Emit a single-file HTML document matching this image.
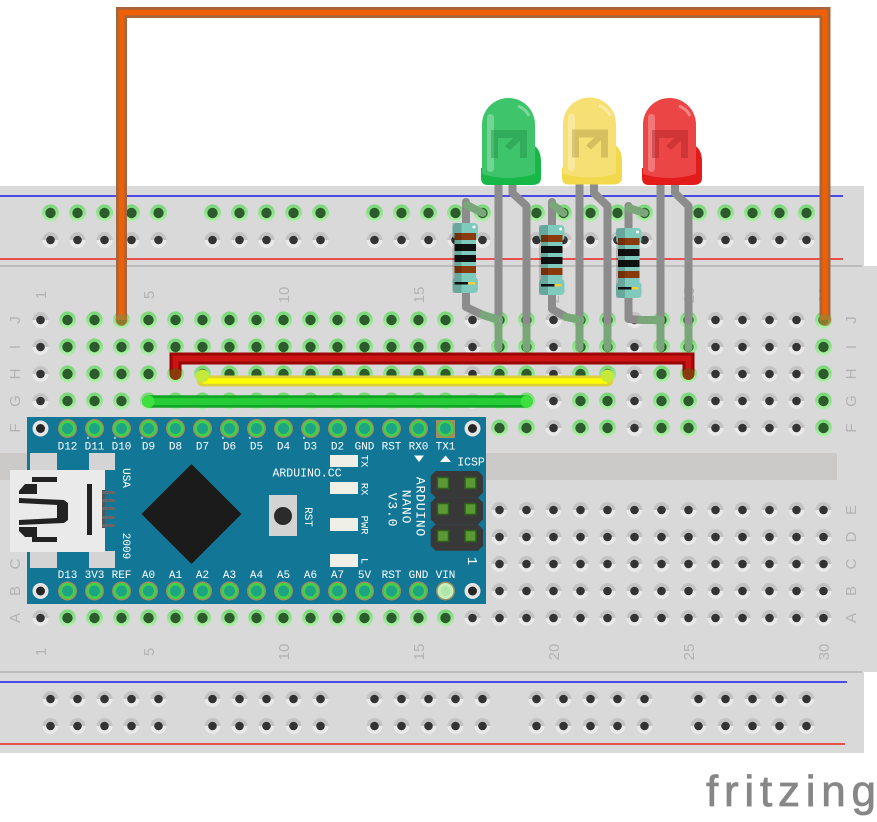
<!DOCTYPE html>
<html><head><meta charset="utf-8">
<style>html,body{margin:0;padding:0;background:#fff}svg{display:block}</style>
</head><body>
<svg width="877" height="822" viewBox="0 0 877 822" xmlns="http://www.w3.org/2000/svg">
<defs>
<linearGradient id="gg" x1="0" y1="0" x2="0" y2="1"><stop offset="0.5" stop-color="#c3c3c3"/><stop offset="0.5" stop-color="#e9e9e9"/></linearGradient>
<linearGradient id="gn" x1="0" y1="0" x2="0" y2="1"><stop offset="0" stop-color="#76d676"/><stop offset="1" stop-color="#b2f0aa"/></linearGradient>
<g id="hg"><circle cx="13.5" cy="13.5" r="8" fill="url(#gg)"/><circle cx="13.5" cy="13.5" r="4.3" fill="#333"/></g>
<g id="hn"><circle cx="13.5" cy="13.5" r="8.5" fill="url(#gn)"/><circle cx="13.5" cy="13.5" r="5.2" fill="#2c5c2c"/></g>
<pattern id="pTg" x="27" y="306.5" width="27" height="27" patternUnits="userSpaceOnUse"><use href="#hg"/></pattern>
<pattern id="pTn" x="27" y="306.5" width="27" height="27" patternUnits="userSpaceOnUse"><use href="#hn"/></pattern>
<pattern id="pBg" x="27" y="496.5" width="27" height="27" patternUnits="userSpaceOnUse"><use href="#hg"/></pattern>
<pattern id="pBn" x="27" y="496.5" width="27" height="27" patternUnits="userSpaceOnUse"><use href="#hn"/></pattern>
<pattern id="pRg" x="37" y="199.5" width="27" height="27" patternUnits="userSpaceOnUse"><use href="#hg"/></pattern>
<pattern id="pRn" x="37" y="199.5" width="27" height="27" patternUnits="userSpaceOnUse"><use href="#hn"/></pattern>
<g id="pin"><circle r="9.5" fill="#9d8f5e"/><circle r="8" fill="#3fd34a"/><circle r="5.5" fill="#1ea383"/></g>
<g id="chole"><circle r="8" fill="#e4e4e4"/><circle r="4.5" fill="#262626"/></g>
</defs>

<!-- breadboard -->
<rect x="0" y="186" width="864" height="80" fill="#d9d9d9"/>
<rect x="0" y="266" width="877" height="406" fill="#d9d9d9"/>
<rect x="0" y="672" width="864" height="81" fill="#d9d9d9"/>
<line x1="0" y1="266" x2="862" y2="266" stroke="#b3b3b3" stroke-width="1.5"/>
<line x1="0" y1="672" x2="862" y2="672" stroke="#b3b3b3" stroke-width="1.5"/>
<line x1="0" y1="196" x2="843" y2="196" stroke="#1a1aee" stroke-width="1.5"/>
<line x1="0" y1="259" x2="843" y2="259" stroke="#ee2222" stroke-width="1.5"/>
<line x1="0" y1="682" x2="847" y2="682" stroke="#1a1aee" stroke-width="1.5"/>
<line x1="0" y1="744" x2="845" y2="744" stroke="#ee2222" stroke-width="1.5"/>
<rect x="0" y="453" width="837" height="27" fill="#cbcac8"/>

<!-- rail holes -->
<g>
<rect x="37" y="199.5" width="135" height="27" fill="url(#pRn)"/>
<rect x="199" y="199.5" width="135" height="27" fill="url(#pRn)"/>
<rect x="361" y="199.5" width="135" height="27" fill="url(#pRn)"/>
<rect x="523" y="199.5" width="135" height="27" fill="url(#pRn)"/>
<rect x="685" y="199.5" width="135" height="27" fill="url(#pRn)"/>
<rect x="37" y="226.5" width="135" height="27" fill="url(#pRg)"/>
<rect x="199" y="226.5" width="135" height="27" fill="url(#pRg)"/>
<rect x="361" y="226.5" width="135" height="27" fill="url(#pRg)"/>
<rect x="523" y="226.5" width="135" height="27" fill="url(#pRg)"/>
<rect x="685" y="226.5" width="135" height="27" fill="url(#pRg)"/>
<rect x="37" y="685.5" width="135" height="54" fill="url(#pRg)"/>
<rect x="199" y="685.5" width="135" height="54" fill="url(#pRg)"/>
<rect x="361" y="685.5" width="135" height="54" fill="url(#pRg)"/>
<rect x="523" y="685.5" width="135" height="54" fill="url(#pRg)"/>
<rect x="685" y="685.5" width="135" height="54" fill="url(#pRg)"/>
</g>
<!-- main holes -->
<g>
<rect x="27" y="306.5" width="27" height="135" fill="url(#pTg)"/>
<rect x="459" y="306.5" width="27" height="135" fill="url(#pTg)"/>
<rect x="540" y="306.5" width="27" height="135" fill="url(#pTg)"/>
<rect x="621" y="306.5" width="27" height="135" fill="url(#pTg)"/>
<rect x="702" y="306.5" width="108" height="135" fill="url(#pTg)"/>
<rect x="54" y="306.5" width="405" height="135" fill="url(#pTn)"/>
<rect x="486" y="306.5" width="54" height="135" fill="url(#pTn)"/>
<rect x="567" y="306.5" width="54" height="135" fill="url(#pTn)"/>
<rect x="648" y="306.5" width="54" height="135" fill="url(#pTn)"/>
<rect x="810" y="306.5" width="27" height="135" fill="url(#pTn)"/>
<rect x="486" y="496.5" width="351" height="108" fill="url(#pBg)"/>
<rect x="27" y="604.5" width="27" height="27" fill="url(#pBg)"/>
<rect x="54" y="604.5" width="405" height="27" fill="url(#pBn)"/>
<rect x="459" y="604.5" width="378" height="27" fill="url(#pBg)"/>
</g>

<!-- breadboard labels -->
<g font-family="Liberation Sans, sans-serif" font-size="15" fill="#b3b3b3" text-anchor="middle" dominant-baseline="central">
<text transform="translate(15.5 320) rotate(-90)">J</text>
<text transform="translate(15.5 347) rotate(-90)">I</text>
<text transform="translate(15.5 374) rotate(-90)">H</text>
<text transform="translate(15.5 401) rotate(-90)">G</text>
<text transform="translate(15.5 428) rotate(-90)">F</text>
<text transform="translate(15.5 510) rotate(-90)">E</text>
<text transform="translate(15.5 537) rotate(-90)">D</text>
<text transform="translate(15.5 564) rotate(-90)">C</text>
<text transform="translate(15.5 591) rotate(-90)">B</text>
<text transform="translate(15.5 618) rotate(-90)">A</text>
<text transform="translate(851.5 320) rotate(-90)">J</text>
<text transform="translate(851.5 347) rotate(-90)">I</text>
<text transform="translate(851.5 374) rotate(-90)">H</text>
<text transform="translate(851.5 401) rotate(-90)">G</text>
<text transform="translate(851.5 428) rotate(-90)">F</text>
<text transform="translate(851.5 510) rotate(-90)">E</text>
<text transform="translate(851.5 537) rotate(-90)">D</text>
<text transform="translate(851.5 564) rotate(-90)">C</text>
<text transform="translate(851.5 591) rotate(-90)">B</text>
<text transform="translate(851.5 618) rotate(-90)">A</text>
<text transform="translate(41.5 295) rotate(-90)">1</text>
<text transform="translate(149.5 295) rotate(-90)">5</text>
<text transform="translate(284.5 295) rotate(-90)">10</text>
<text transform="translate(419.5 295) rotate(-90)">15</text>
<text transform="translate(554.5 295) rotate(-90)">20</text>
<text transform="translate(689.5 295) rotate(-90)">25</text>
<text transform="translate(824.5 295) rotate(-90)">30</text>
<text transform="translate(41.5 652) rotate(-90)">1</text>
<text transform="translate(149.5 652) rotate(-90)">5</text>
<text transform="translate(284.5 652) rotate(-90)">10</text>
<text transform="translate(419.5 652) rotate(-90)">15</text>
<text transform="translate(554.5 652) rotate(-90)">20</text>
<text transform="translate(689.5 652) rotate(-90)">25</text>
<text transform="translate(824.5 652) rotate(-90)">30</text>
</g>

<!-- Arduino Nano -->
<rect x="27" y="417" width="459" height="187" fill="#127797"/>
<use href="#chole" x="40.5" y="428.5"/>
<use href="#chole" x="472.5" y="428.5"/>
<use href="#chole" x="40.5" y="591"/>
<use href="#chole" x="472.5" y="591"/>
<g>
<use href="#pin" x="67.5" y="428.5"/><use href="#pin" x="94.5" y="428.5"/><use href="#pin" x="121.5" y="428.5"/><use href="#pin" x="148.5" y="428.5"/><use href="#pin" x="175.5" y="428.5"/><use href="#pin" x="202.5" y="428.5"/><use href="#pin" x="229.5" y="428.5"/><use href="#pin" x="256.5" y="428.5"/><use href="#pin" x="283.5" y="428.5"/><use href="#pin" x="310.5" y="428.5"/><use href="#pin" x="337.5" y="428.5"/><use href="#pin" x="364.5" y="428.5"/><use href="#pin" x="391.5" y="428.5"/><use href="#pin" x="418.5" y="428.5"/>
<use href="#pin" x="67.5" y="591"/><use href="#pin" x="94.5" y="591"/><use href="#pin" x="121.5" y="591"/><use href="#pin" x="148.5" y="591"/><use href="#pin" x="175.5" y="591"/><use href="#pin" x="202.5" y="591"/><use href="#pin" x="229.5" y="591"/><use href="#pin" x="256.5" y="591"/><use href="#pin" x="283.5" y="591"/><use href="#pin" x="310.5" y="591"/><use href="#pin" x="337.5" y="591"/><use href="#pin" x="364.5" y="591"/><use href="#pin" x="391.5" y="591"/><use href="#pin" x="418.5" y="591"/>
<rect x="436" y="420" width="19" height="18" fill="#9d8f5e"/><circle cx="445.5" cy="428.5" r="8" fill="#3fd34a"/><circle cx="445.5" cy="428.5" r="5.5" fill="#1ea383"/>
<circle cx="445.5" cy="591" r="9.5" fill="#9d8f5e"/><circle cx="445.5" cy="591" r="8" fill="#c4efbe"/><circle cx="445.5" cy="591" r="5" fill="#aee6a8"/>
</g>
<g font-family="Liberation Mono, monospace" font-size="11" fill="#ffffff" text-anchor="middle" dominant-baseline="central">
<text x="67.5" y="447.5">D12</text><text x="94.5" y="447.5">D11</text><text x="121.5" y="447.5">D10</text><text x="148.5" y="447.5">D9</text><text x="175.5" y="447.5">D8</text><text x="202.5" y="447.5">D7</text><text x="229.5" y="447.5">D6</text><text x="256.5" y="447.5">D5</text><text x="283.5" y="447.5">D4</text><text x="310.5" y="447.5">D3</text><text x="337.5" y="447.5">D2</text><text x="364.5" y="447.5">GND</text><text x="391.5" y="447.5">RST</text><text x="418.5" y="447.5">RX0</text><text x="445.5" y="447.5">TX1</text>
<text x="67.5" y="576">D13</text><text x="94.5" y="576">3V3</text><text x="121.5" y="576">REF</text><text x="148.5" y="576">A0</text><text x="175.5" y="576">A1</text><text x="202.5" y="576">A2</text><text x="229.5" y="576">A3</text><text x="256.5" y="576">A4</text><text x="283.5" y="576">A5</text><text x="310.5" y="576">A6</text><text x="337.5" y="576">A7</text><text x="364.5" y="576">5V</text><text x="391.5" y="576">RST</text><text x="418.5" y="576">GND</text><text x="445.5" y="576">VIN</text>
<g font-size="7"><text x="88" y="441">*</text><text x="115" y="441">*</text><text x="142" y="441">*</text><text x="223" y="441">*</text><text x="250" y="441">*</text><text x="304" y="441">*</text></g>
<text x="307" y="474" font-size="11.5">ARDUINO.CC</text>
<text x="471" y="463" font-size="11.5">ICSP</text>
<text transform="translate(125 478) rotate(90)">USA</text>
<text transform="translate(125 546) rotate(90)">2009</text>
<text transform="translate(307 517) rotate(90)">RST</text>
<text transform="translate(363.5 461) rotate(90)" font-size="10.5">TX</text>
<text transform="translate(363.5 489) rotate(90)" font-size="10.5">RX</text>
<text transform="translate(363.5 525) rotate(90)" font-size="10.5">PWR</text>
<text transform="translate(363.5 561) rotate(90)" font-size="10.5">L</text>
<text transform="translate(420 507) rotate(90)" font-size="13" letter-spacing="0.8">ARDUINO</text>
<text transform="translate(406 507) rotate(90)" font-size="13" letter-spacing="0.8">NANO</text>
<text transform="translate(392 510) rotate(90)" font-size="13" letter-spacing="0.8">V3.0</text>
<text transform="translate(471 561) rotate(90)" font-size="14">1</text>
</g>
<!-- USB -->
<g>
<rect x="30" y="453" width="27" height="17" fill="#d4d4d4"/>
<rect x="89" y="453" width="26" height="17" fill="#d4d4d4"/>
<rect x="30" y="551" width="27" height="17" fill="#d4d4d4"/>
<rect x="89" y="551" width="26" height="17" fill="#d4d4d4"/>
<rect x="10" y="470" width="95" height="82" fill="#eaeaea"/>
<rect x="32" y="477" width="25" height="5" fill="#222"/>
<rect x="32" y="537" width="25" height="5" fill="#222"/>
<polygon points="19,491 25,484 37,484 37,494 19,494" fill="#222"/>
<polygon points="19,527 37,527 37,537 25,537 19,531" fill="#222"/>
<path d="M19,498 L64,500 L68,503 L68,520 L64,523 L19,525 L19,520 L57,518 L57,505 L19,503 Z" fill="#222"/>
<rect x="87" y="484" width="5" height="51" fill="#222"/>
<rect x="102" y="490" width="3" height="38" fill="#555"/>
<rect x="102" y="491" width="13" height="3" fill="#666"/>
<rect x="102" y="499" width="13" height="3" fill="#666"/>
<rect x="102" y="507" width="13" height="3" fill="#666"/>
<rect x="102" y="516" width="13" height="3" fill="#666"/>
<rect x="102" y="524" width="13" height="3" fill="#666"/>
</g>
<polygon points="191.5,464 241.5,514 191.5,564 141.5,514" fill="#1b1b1b"/>
<rect x="269" y="495" width="28" height="41" fill="#d3d3d3"/>
<circle cx="283" cy="516" r="9" fill="#2b2b2b"/>
<g fill="#efefe8">
<rect x="330" y="455" width="28" height="12"/>
<rect x="330" y="482" width="28" height="12"/>
<rect x="330" y="518" width="28" height="13"/>
<rect x="330" y="554" width="28" height="13"/>
</g>
<polygon points="414,455.5 424,455.5 419,462" fill="#fff"/>
<polygon points="440,462 451,462 445.5,455.5" fill="#fff"/>
<g fill="#383838">
<polygon points="435.7,471 478,471 483,476 483,492.6 478,497.6 435.7,497.6 430.7,492.6 430.7,476"/>
<polygon points="435.7,497.6 478,497.6 483,502.6 483,519.2 478,524.2 435.7,524.2 430.7,519.2 430.7,502.6"/>
<polygon points="435.7,524.2 478,524.2 483,529.2 483,545.8 478,550.8 435.7,550.8 430.7,545.8 430.7,529.2"/>
</g>
<g fill="#5a9a34" stroke="#2f5e1e" stroke-width="1.5">
<rect x="437.5" y="477.5" width="11" height="11"/><rect x="465" y="477.5" width="11" height="11"/>
<rect x="437.5" y="503.5" width="11" height="11"/><rect x="465" y="503.5" width="11" height="11"/>
<rect x="437.5" y="530.5" width="11" height="11"/><rect x="465" y="530.5" width="11" height="11"/>
</g>

<!-- LED legs -->
<g fill="none" stroke="#8c8c8c" stroke-width="8" stroke-linejoin="round">
<path d="M498.5,180 V330"/>
<path d="M512.5,180 V193 L526.5,206 V330"/>
<path d="M579.5,180 V330"/>
<path d="M594,180 V193 L607.5,206 V330"/>
<path d="M660.5,180 V330"/>
<path d="M675,180 V193 L688.5,206 V330"/>
</g>
<g fill="none" stroke="#79a779" stroke-width="8" stroke-linecap="round">
<path d="M498.5,328 V348"/><path d="M526.5,328 V348"/>
<path d="M579.5,328 V348"/><path d="M607.5,328 V348"/>
<path d="M660.5,328 V348"/><path d="M688.5,328 V348"/>
</g>

<!-- resistor legs -->
<g fill="none" stroke="#8c8c8c" stroke-width="8" stroke-linecap="round" stroke-linejoin="round">
<path d="M466,202 V307 L483,315"/>
<path d="M552,202 V309 L566,317"/>
<path d="M628.5,206 V319 L641,320"/>
</g>
<g fill="none" stroke="#79a779" stroke-width="8" stroke-linecap="round">
<path d="M467,205 L482.5,213"/>
<path d="M553,205 L563.5,213"/>
<path d="M629,208 L644.5,213"/>
<path d="M483,315 L499,320"/>
<path d="M566,317 L580.5,320"/>
<path d="M641,320 L661,320"/>
</g>

<!-- resistors -->
<g>
<rect x="452.5" y="223" width="25.5" height="16" rx="4" fill="#7ecabc"/>
<rect x="452.5" y="277" width="25.5" height="16" rx="4" fill="#7ecabc"/>
<rect x="454.5" y="233" width="21.5" height="50" fill="#7ecabc"/>
<rect x="454.5" y="233" width="21.5" height="7" fill="#8a3a0c"/>
<rect x="454.5" y="244" width="21.5" height="7" fill="#111"/>
<rect x="454.5" y="255" width="21.5" height="7" fill="#111"/>
<rect x="454.5" y="266" width="21.5" height="7" fill="#8a3a0c"/>
<rect x="454.5" y="282" width="16" height="2.5" fill="#111"/>
<rect x="468" y="282" width="7" height="2.5" fill="#f0d040"/>
<rect x="452.5" y="223" width="9" height="70" fill="#000" opacity="0.17"/>
<circle cx="474" cy="227" r="1.5" fill="#fff"/>
</g>
<g transform="translate(86.5 2)">
<rect x="452.5" y="223" width="25.5" height="16" rx="4" fill="#7ecabc"/>
<rect x="452.5" y="277" width="25.5" height="16" rx="4" fill="#7ecabc"/>
<rect x="454.5" y="233" width="21.5" height="50" fill="#7ecabc"/>
<rect x="454.5" y="233" width="21.5" height="7" fill="#8a3a0c"/>
<rect x="454.5" y="244" width="21.5" height="7" fill="#111"/>
<rect x="454.5" y="255" width="21.5" height="7" fill="#111"/>
<rect x="454.5" y="266" width="21.5" height="7" fill="#8a3a0c"/>
<rect x="454.5" y="282" width="16" height="2.5" fill="#111"/>
<rect x="468" y="282" width="7" height="2.5" fill="#f0d040"/>
<rect x="452.5" y="223" width="9" height="70" fill="#000" opacity="0.17"/>
<circle cx="474" cy="227" r="1.5" fill="#fff"/>
</g>
<g transform="translate(163.5 5)">
<rect x="452.5" y="223" width="25.5" height="16" rx="4" fill="#7ecabc"/>
<rect x="452.5" y="277" width="25.5" height="16" rx="4" fill="#7ecabc"/>
<rect x="454.5" y="233" width="21.5" height="50" fill="#7ecabc"/>
<rect x="454.5" y="233" width="21.5" height="7" fill="#8a3a0c"/>
<rect x="454.5" y="244" width="21.5" height="7" fill="#111"/>
<rect x="454.5" y="255" width="21.5" height="7" fill="#111"/>
<rect x="454.5" y="266" width="21.5" height="7" fill="#8a3a0c"/>
<rect x="454.5" y="282" width="16" height="2.5" fill="#111"/>
<rect x="468" y="282" width="7" height="2.5" fill="#f0d040"/>
<rect x="452.5" y="223" width="9" height="70" fill="#000" opacity="0.17"/>
<circle cx="474" cy="227" r="1.5" fill="#fff"/>
</g>

<!-- LEDs -->
<g transform="translate(482 98)">
<path d="M-1,70 L51,70 L51,47 Q59,51 59,64 L59,80 Q59,87 50,87 L6,87 Q-1,87 -1,80 Z" fill="#18b848"/>
<path d="M0,76 L0,26.5 A26.5,26.5 0 0 1 53,26.5 L53,76 Q40,80 26.5,80 Q12,80 0,76 Z" fill="#3ec46a"/>
<rect x="5" y="16" width="7" height="58" rx="3.5" fill="#fff" opacity="0.28"/>
<path d="M36,8 Q44,11 47,18" stroke="#fff" stroke-width="3" fill="none" opacity="0.35"/>
<g fill="#1f8a44" opacity="0.4"><rect x="9" y="32" width="36" height="8"/><rect x="9" y="32" width="7" height="28"/><rect x="38" y="32" width="7" height="28"/><polygon points="40,32 45,36 28,52 23,48"/></g>
</g>
<g transform="translate(563 97.5)">
<path d="M-1,70 L51,70 L51,47 Q59,51 59,64 L59,80 Q59,87 50,87 L6,87 Q-1,87 -1,80 Z" fill="#f2d94c"/>
<path d="M0,76 L0,26.5 A26.5,26.5 0 0 1 53,26.5 L53,76 Q40,80 26.5,80 Q12,80 0,76 Z" fill="#f6e073"/>
<rect x="5" y="16" width="7" height="58" rx="3.5" fill="#fff" opacity="0.3"/>
<path d="M36,8 Q44,11 47,18" stroke="#fff" stroke-width="3" fill="none" opacity="0.4"/>
<g fill="#a89040" opacity="0.4"><rect x="9" y="32" width="36" height="8"/><rect x="9" y="32" width="7" height="28"/><rect x="38" y="32" width="7" height="28"/><polygon points="40,32 45,36 28,52 23,48"/></g>
</g>
<g transform="translate(643 98)">
<path d="M-1,70 L51,70 L51,47 Q59,51 59,64 L59,80 Q59,87 50,87 L6,87 Q-1,87 -1,80 Z" fill="#e31b1b"/>
<path d="M0,76 L0,26.5 A26.5,26.5 0 0 1 53,26.5 L53,76 Q40,80 26.5,80 Q12,80 0,76 Z" fill="#ec4545"/>
<rect x="5" y="16" width="7" height="58" rx="3.5" fill="#fff" opacity="0.28"/>
<path d="M36,8 Q44,11 47,18" stroke="#fff" stroke-width="3" fill="none" opacity="0.35"/>
<g fill="#a81e1e" opacity="0.4"><rect x="9" y="32" width="36" height="8"/><rect x="9" y="32" width="7" height="28"/><rect x="38" y="32" width="7" height="28"/><polygon points="40,32 45,36 28,52 23,48"/></g>
</g>

<!-- wires -->
<g fill="none" stroke-linejoin="miter">
<path d="M121.5,320 V12.5 H825 V320" stroke="#a8643a" stroke-width="11"/>
<path d="M121.5,320 V12.5 H825 V320" stroke="#f06000" stroke-width="5.5"/>
<circle cx="121.5" cy="320" r="6" fill="#a58030" stroke="none" opacity="0.8"/>
<circle cx="825" cy="320" r="6" fill="#a58030" stroke="none" opacity="0.8"/>

<path d="M175.5,374 V358.5 H688.5 V374" stroke="#9a0606" stroke-width="12"/>
<path d="M175.5,374 V358.5 H688.5 V374" stroke="#cc1414" stroke-width="6"/>
<circle cx="175.5" cy="374" r="6" fill="#8a3a0c" stroke="none"/>
<circle cx="688.5" cy="374" r="6" fill="#8a3a0c" stroke="none"/>

<path d="M202.5,381 H607.5" stroke="#dcd13a" stroke-width="11" stroke-linecap="round"/>
<path d="M202.5,381 H607.5" stroke="#ffff00" stroke-width="5.5"/>
<circle cx="202.5" cy="376" r="6.5" fill="#c6e83a" stroke="none"/>
<circle cx="607.5" cy="376" r="6.5" fill="#c6e83a" stroke="none"/>

<path d="M148.5,401.5 H526.5" stroke="#12a626" stroke-width="12.5" stroke-linecap="round"/>
<path d="M148.5,401.5 H526.5" stroke="#26cc36" stroke-width="7"/>
<circle cx="148.5" cy="401.5" r="6" fill="#3ee03e" stroke="none"/>
<circle cx="526.5" cy="401.5" r="6" fill="#3ee03e" stroke="none"/>
</g>

<!-- logo -->
<text x="706" y="806" font-family="Liberation Sans, sans-serif" font-size="44" fill="#878787" stroke="#878787" stroke-width="0.8" textLength="170" lengthAdjust="spacing">fritzing</text>
</svg>
</body></html>
